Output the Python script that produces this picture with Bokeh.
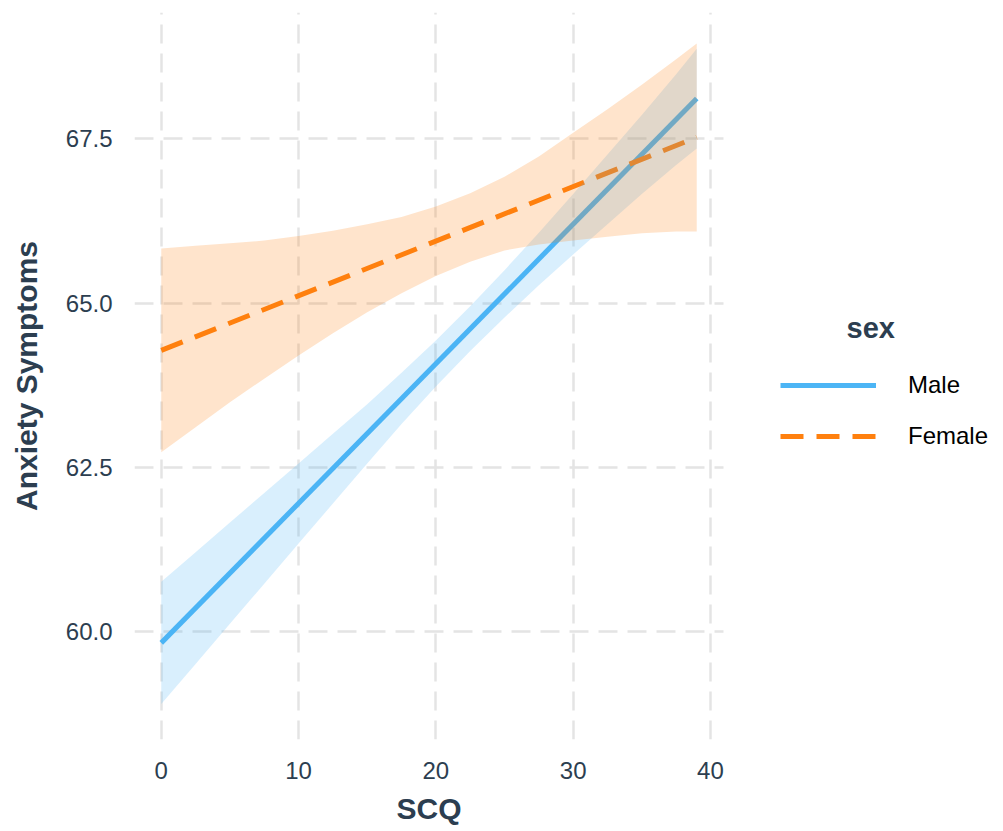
from bokeh.plotting import figure
from bokeh.models import (Range1d, FixedTicker, NumeralTickFormatter, Legend, LegendItem, Label, Title)
from bokeh.embed import file_html
from bokeh.resources import INLINE

# ---- data ----
line_x = [0, 39]
male_fit = [59.83, 68.11]
female_fit = [64.28, 67.52]

band_x = [0, 2.5, 5, 7.5, 10, 12.5, 15, 17.5, 20, 22.5, 25, 27.5, 30, 32.5, 35, 37.5, 39]
male_lower = [58.90, 59.51, 60.12, 60.73, 61.34, 61.95, 62.56, 63.16, 63.73, 64.27,
              64.78, 65.27, 65.74, 66.20, 66.66, 67.10, 67.35]
male_upper = [60.76, 61.21, 61.66, 62.11, 62.56, 63.01, 63.46, 63.94, 64.43, 64.95,
              65.50, 66.07, 66.66, 67.26, 67.86, 68.48, 68.87]
female_lower = [62.73, 63.11, 63.49, 63.85, 64.20, 64.54, 64.86, 65.15, 65.41, 65.63,
                65.80, 65.89, 65.95, 66.01, 66.06, 66.09, 66.09]
female_upper = [65.83, 65.87, 65.91, 65.95, 66.02, 66.10, 66.20, 66.31, 66.47, 66.67,
                66.92, 67.23, 67.59, 67.95, 68.32, 68.71, 68.95]

x_ticks = [0, 10, 20, 30, 40]
y_ticks = [60.0, 62.5, 65.0, 67.5]
series_names = ["Male", "Female"]
legend_title = "sex"
x_title = "SCQ"
y_title = "Anxiety Symptoms"

# ---- styles ----
BLUE = "#4CB5F5"
ORANGE = "#FF800E"
TEXT = "#2C3E50"
FONT = "Liberation Sans"
GRID = "#E4E4E4"

X_START = -1.95
X_DATA_END = 40.95
PX_PER_UNIT = 589 / (X_DATA_END - X_START)
FRAME_W = 855

p = figure(frame_width=FRAME_W, frame_height=727,
           min_border_left=134, min_border_right=4, min_border_top=12, min_border_bottom=84,
           x_range=Range1d(X_START, X_START + FRAME_W / PX_PER_UNIT),
           y_range=Range1d(58.36, 69.42),
           output_backend="svg", toolbar_location=None)
p.outline_line_color = None
p.background_fill_color = "white"
p.border_fill_color = "white"

# lines first, ribbons on top (as in the reference)
male_r = p.line(line_x, male_fit, line_color=BLUE, line_width=5)
female_r = p.line(line_x, female_fit, line_color=ORANGE, line_width=5, line_dash="23 13")
p.varea(x=band_x, y1=male_lower, y2=male_upper, fill_color=BLUE, fill_alpha=0.21)
p.varea(x=band_x, y1=female_lower, y2=female_upper, fill_color=ORANGE, fill_alpha=0.21)

# axes
p.xaxis.ticker = FixedTicker(ticks=x_ticks)
p.yaxis.ticker = FixedTicker(ticks=y_ticks)
p.yaxis.formatter = NumeralTickFormatter(format="0.0")
for ax in (p.xaxis, p.yaxis):
    ax.axis_line_color = None
    ax.major_tick_line_color = None
    ax.minor_tick_line_color = None
    ax.major_tick_out = 0
    ax.major_label_text_font = FONT
    ax.major_label_text_font_size = "24px"
    ax.major_label_text_color = TEXT
    ax.axis_label_text_font = FONT
    ax.axis_label_text_font_size = "30px"
    ax.axis_label_text_font_style = "bold"
    ax.axis_label_text_color = TEXT
p.yaxis.axis_label = y_title
p.xaxis.major_label_standoff = 22
p.yaxis.major_label_standoff = 22
p.yaxis.axis_label_standoff = 20

# x-axis title, centred under the data panel (not the whole frame)
p.add_layout(Title(text=x_title, align="left", offset=262, standoff=17,
                   text_font=FONT, text_font_size="30px", text_font_style="bold",
                   text_color=TEXT), "below")

# grid (horizontal lines limited to the data panel)
for g in (p.xgrid, p.ygrid):
    g.grid_line_color = GRID
    g.grid_line_width = 2.5
    g.grid_line_dash = "19 10"
p.xgrid.ticker = FixedTicker(ticks=x_ticks)
p.ygrid.ticker = FixedTicker(ticks=y_ticks)
p.ygrid.cross_bounds = (X_START, X_DATA_END)

# legend
legend = Legend(items=[LegendItem(label=series_names[0], renderers=[male_r]),
                       LegendItem(label=series_names[1], renderers=[female_r])],
                location=(646, 289), padding=0, margin=0, spacing=23,
                glyph_width=96, glyph_height=28, label_height=28, label_standoff=32,
                label_text_font=FONT, label_text_font_size="24px", label_text_color="#000000",
                border_line_color=None, background_fill_alpha=0)
p.add_layout(legend)
p.add_layout(Label(x=712, y=412, x_units="screen", y_units="screen", text=legend_title,
                   text_font=FONT, text_font_size="29px", text_font_style="bold",
                   text_color=TEXT, text_baseline="alphabetic"))

open("out.html", "w").write(file_html(p, INLINE))
